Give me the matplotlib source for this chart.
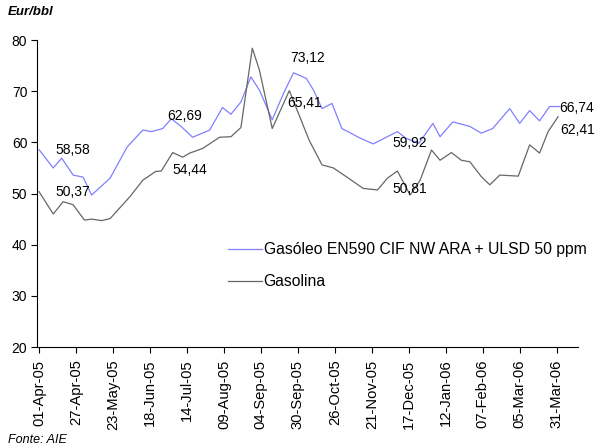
import pandas as pd
import matplotlib
matplotlib.use("Agg")
import matplotlib.pyplot as plt
import matplotlib.dates as mdates

plt.rcParams['font.family'] = ['Liberation Sans', 'DejaVu Sans']

# Gasóleo EN590 CIF NW ARA + ULSD 50 ppm (Eur/bbl)
gasoleo_dates = ["2005-04-01", "2005-04-11", "2005-04-17", "2005-04-25", "2005-05-02",
                 "2005-05-08", "2005-05-21", "2005-06-02", "2005-06-13", "2005-06-19",
                 "2005-06-27", "2005-07-03", "2005-07-10", "2005-07-18", "2005-07-30",
                 "2005-08-08", "2005-08-14", "2005-08-21", "2005-08-28", "2005-09-03",
                 "2005-09-12", "2005-09-20", "2005-09-27", "2005-10-06", "2005-10-11",
                 "2005-10-17", "2005-10-24", "2005-10-31", "2005-11-13", "2005-11-22",
                 "2005-12-09", "2005-12-15", "2005-12-24", "2006-01-03", "2006-01-08",
                 "2006-01-17", "2006-01-29", "2006-02-06", "2006-02-14", "2006-02-26",
                 "2006-03-05", "2006-03-12", "2006-03-19", "2006-03-26", "2006-04-02"]
gasoleo = [58.58, 55.0, 56.9, 53.6, 53.2,
           49.7, 53.0, 59.1, 62.4, 62.1,
           62.7, 64.6, 63.1, 61.0, 62.4,
           66.8, 65.5, 67.9, 72.8, 70.2,
           64.4, 69.6, 73.6, 72.5, 70.2,
           66.6, 67.6, 62.7, 60.8, 59.7,
           62.1, 60.8, 59.8, 63.7, 61.1,
           64.0, 63.1, 61.8, 62.7, 66.6,
           63.7, 66.2, 64.2, 67.0, 67.0]

# Gasolina (Eur/bbl)
gasolina_dates = ["2005-04-01", "2005-04-11", "2005-04-18", "2005-04-25", "2005-05-03",
                  "2005-05-08", "2005-05-15", "2005-05-21", "2005-06-04", "2005-06-13",
                  "2005-06-22", "2005-06-26", "2005-07-04", "2005-07-11", "2005-07-16",
                  "2005-07-25", "2005-08-06", "2005-08-14", "2005-08-21", "2005-08-29",
                  "2005-09-03", "2005-09-12", "2005-09-24", "2005-10-08", "2005-10-17",
                  "2005-10-25", "2005-11-03", "2005-11-15", "2005-11-25", "2005-12-02",
                  "2005-12-09", "2005-12-18", "2005-12-25", "2006-01-02", "2006-01-08",
                  "2006-01-16", "2006-01-23", "2006-01-29", "2006-02-06", "2006-02-12",
                  "2006-02-19", "2006-03-04", "2006-03-12", "2006-03-19", "2006-03-25",
                  "2006-04-01"]
gasolina = [50.37, 46.0, 48.4, 47.8, 44.8,
            45.0, 44.7, 45.1, 49.4, 52.6,
            54.3, 54.4, 58.0, 57.1, 57.9,
            58.8, 61.0, 61.1, 62.9, 78.4,
            74.1, 62.7, 70.1, 60.4, 55.6,
            55.0, 53.3, 51.0, 50.7, 53.0,
            54.4, 49.7, 52.6, 58.5, 56.5,
            58.0, 56.5, 56.2, 53.3, 51.7,
            53.6, 53.4, 59.5, 57.9, 62.1,
            65.0]

# value labels: (series, point index, text, dx px, dy px)
labels = [("g", 0, "58,58", 16, 0), ("s", 0, "50,37", 16, 0),
          ("g", 11, "62,69", -4, 3), ("s", 11, "54,44", 11, 1),
          ("g", 22, "73,12", -3, 15), ("s", 22, "65,41", -2, -12),
          ("g", 32, "59,92", -26, 0), ("s", 31, "50,81", -18, 6),
          ("g", 44, "66,74", 0, -1), ("s", 45, "62,41", 2, -13)]

start = pd.Timestamp("2005-04-01")
tick_dates = pd.date_range(start, periods=15, freq="26D")

gd = pd.to_datetime(gasoleo_dates)
sd = pd.to_datetime(gasolina_dates)

fig = plt.figure(figsize=(5.95, 4.48), dpi=100)
ax = fig.add_axes([0.0622, 0.2254, 0.9092, 0.6853])

ax.plot(gd, gasoleo, color="#8080ff", lw=0.9, label="Gasóleo EN590 CIF NW ARA + ULSD 50 ppm")
ax.plot(sd, gasolina, color="#666666", lw=0.9, label="Gasolina")

for ser, i, txt, dx, dy in labels:
    if ser == "g":
        xy = (gd[i], gasoleo[i])
    else:
        xy = (sd[i], gasolina[i])
    ax.annotate(txt, xy=xy, xytext=(dx, dy), textcoords="offset pixels",
                ha="left", va="center", fontsize=10)

ax.set_ylim(20, 80)
ax.set_yticks(range(20, 81, 10))
ax.set_xlim(start - pd.Timedelta(days=1.4), start + pd.Timedelta(days=379))
ax.set_xticks(tick_dates)
ax.xaxis.set_major_formatter(mdates.DateFormatter("%d-%b-%y"))
plt.setp(ax.get_xticklabels(), rotation=90)

ax.spines["top"].set_visible(False)
ax.spines["right"].set_visible(False)
ax.tick_params(axis="both", direction="out", length=4, width=0.8, labelsize=10, pad=3)
ax.tick_params(axis="x", labelsize=10.6, pad=5)

ax.legend(loc="center left", bbox_to_anchor=(0.353, 0.265), frameon=False,
          fontsize=11.3, handlelength=2.17, handletextpad=0.1, labelspacing=1.1,
          borderpad=0, borderaxespad=0)

fig.text(8 / 595, 1 - 12 / 448, "Eur/bbl", fontsize=9.5, fontweight="bold",
         fontstyle="italic", va="center", ha="left")
fig.text(8 / 595, 1 - 440 / 448, "Fonte: AIE", fontsize=9, fontstyle="italic",
         va="center", ha="left")

fig.savefig("out.png", dpi=100)
